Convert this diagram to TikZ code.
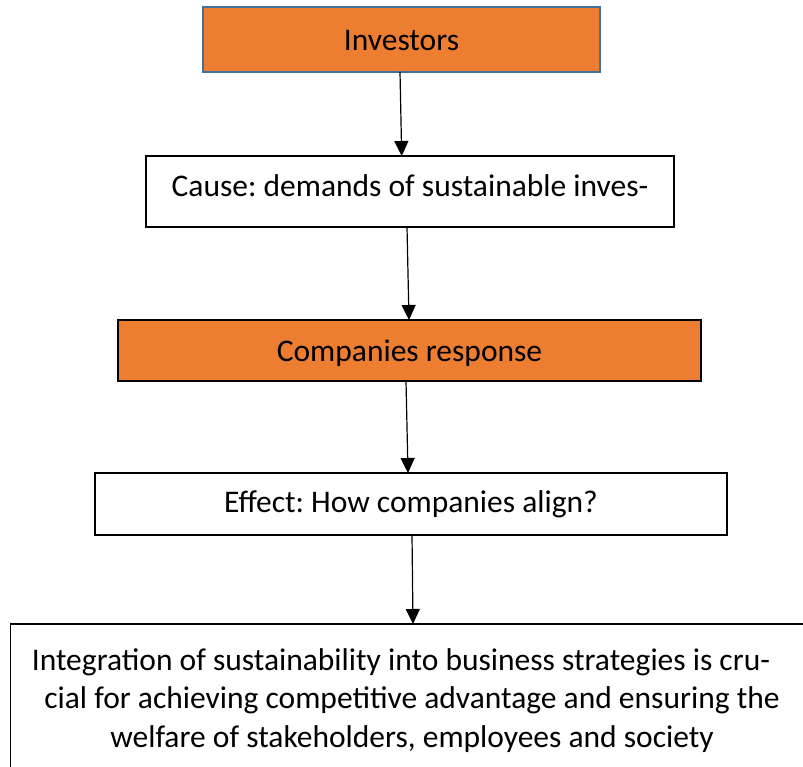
\documentclass[tikz,border=0pt]{standalone}
\usepackage{fontspec}
\setmainfont{Carlito}
\usetikzlibrary{arrows.meta}
\definecolor{boxorange}{HTML}{ED7D31}
\definecolor{boxblue}{HTML}{41719C}
\frenchspacing
\begin{document}
\begin{tikzpicture}[x=1pt,y=-1pt,
  every node/.style={inner sep=0pt, outer sep=0pt,
    font=\fontsize{31.5}{38.3}\selectfont},
  flowbox/.style={draw=black, line width=1.6pt, fill=white, text depth=0pt},
  hotbox/.style={flowbox, fill=boxorange},
  arr/.style={line width=1.2pt, -{Triangle[width=14pt,length=15pt]}}]
  \useasboundingbox (0,0) rectangle (803,767);
  \clip (0,0) rectangle (803,767);

  % chain of boxes
  \node[hotbox, draw=boxblue, line width=2.2pt, minimum width=397pt, minimum height=65pt,
        text height=23pt] (inv) at (401.5,39.5) {Investors};
  \node[flowbox, minimum width=528pt, minimum height=71pt, text height=10pt]
        (cause) at (410,191.5) {Cause: demands of sustainable inves-};
  \node[hotbox, minimum width=583pt, minimum height=61pt, text height=22pt]
        (resp) at (409.5,350.5) {Companies response};
  \node[flowbox, minimum width=632pt, minimum height=62pt, text height=17pt]
        (eff) at (411,504) {Effect: How companies align?};

  % conclusion box, running past the right and lower edges
  \node[flowbox, minimum width=802pt, minimum height=180pt, anchor=north]
        (res) at (411.5,624) {};
  \node[align=center, anchor=base] (restext) at (412,747)
        {Integration of sustainability into business strategies is cru-\hspace*{22pt}\\
         cial for achieving competitive advantage and ensuring the\\
         welfare of stakeholders, employees and society};

  % connectors
  \draw[arr] ([xshift=-1.5pt]inv.south) -- ([xshift=-8.3pt]cause.north);
  \draw[arr] ([xshift=-3pt]cause.south) -- ([xshift=-0.5pt]resp.north);
  \draw[arr] ([xshift=-3.5pt]resp.south) -- ([xshift=-3pt]eff.north);
  \draw[arr] ([xshift=1pt]eff.south) -- ([xshift=1.5pt]res.north);
\end{tikzpicture}
\end{document}
